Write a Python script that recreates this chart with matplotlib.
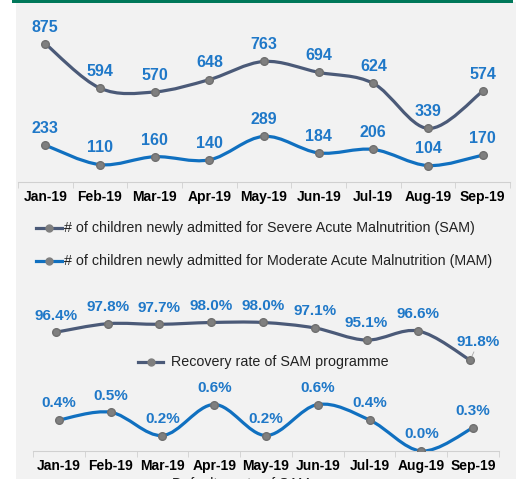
import numpy as np
import matplotlib
matplotlib.use("Agg")
import matplotlib.pyplot as plt
from matplotlib.path import Path
from matplotlib.patches import PathPatch, Rectangle

plt.rcParams['font.family'] = ['Liberation Sans', 'DejaVu Sans']

months = ['Jan-19', 'Feb-19', 'Mar-19', 'Apr-19', 'May-19', 'Jun-19', 'Jul-19', 'Aug-19', 'Sep-19']
sam = [875, 594, 570, 648, 763, 694, 624, 339, 574]
mam = [233, 110, 160, 140, 289, 184, 206, 104, 170]
recovery = [96.4, 97.8, 97.7, 98.0, 98.0, 97.1, 95.1, 96.6, 91.8]
defaulter = [0.4, 0.5, 0.2, 0.6, 0.2, 0.6, 0.4, 0.0, 0.3]

W, H = 521, 479
LBL = '#1F78C8'
SAMC = '#4B5A78'
MAMC = '#1070C0'
MK = '#7F7F7F'


def px(x0, y0, x1, y1):
    # pixel box (top-left origin) -> figure fraction rect
    return [x0 / W, 1 - y1 / H, (x1 - x0) / W, (y1 - y0) / H]


def smooth(ax, xs, ys, color):
    # bezier through points, excel-like smoothed line
    xs = np.asarray(xs, float)
    ys = np.asarray(ys, float)
    pts = np.column_stack([xs, ys])
    n = len(pts)
    verts = [pts[0]]
    codes = [Path.MOVETO]
    for i in range(n - 1):
        p0 = pts[max(i - 1, 0)]
        p1 = pts[i]
        p2 = pts[i + 1]
        p3 = pts[min(i + 2, n - 1)]
        c1 = p1 + (p2 - p0) / 6
        c2 = p2 - (p3 - p1) / 6
        verts += [c1, c2, p2]
        codes += [Path.CURVE4] * 3
    ax.add_patch(PathPatch(Path(verts, codes), fc='none', ec=color, lw=2.3,
                           capstyle='round', zorder=2))
    ax.plot(xs, ys, ls='none', marker='o', ms=5.5, mfc=MK, mec='#6f6f6f', zorder=3)


def labels(ax, xs, ys, fmt, dy=12, fs=11):
    for x, y in zip(xs, ys):
        ax.annotate(fmt.format(y), (x, y), xytext=(0, dy), textcoords='offset points',
                    ha='center', va='center', color=LBL, fontsize=fs, fontweight='bold')


def cat_axis(ax):
    ax.set_xlim(-0.5, len(months) - 0.5)
    ax.set_xticks(range(len(months)))
    ax.set_xticklabels(months, fontsize=10, fontweight='bold')
    ax.set_xticks(np.arange(-0.5, len(months)), minor=True)
    ax.tick_params(axis='x', which='major', length=0, pad=6)
    ax.tick_params(axis='x', which='minor', length=4, color='#d0d0d0', direction='out')
    ax.set_yticks([])
    for s in ['top', 'right', 'left']:
        ax.spines[s].set_visible(False)
    ax.spines['bottom'].set_color('#d0d0d0')
    ax.patch.set_alpha(0)


fig = plt.figure(figsize=(W / 100, H / 100), dpi=100, facecolor='white')
fig.patches.append(Rectangle((16 / W, 0), 500 / W, 1 - 2 / H, transform=fig.transFigure,
                             fc='#F2F2F2', ec='none', zorder=-5))
fig.patches.append(Rectangle((12 / W, 1 - 2.5 / H), 501 / W, 2.5 / H, transform=fig.transFigure,
                             fc='#00785A', ec='none', zorder=-4))

x = np.arange(len(months))

# top chart
ax1 = fig.add_axes(px(18, 24, 510, 182))
cat_axis(ax1)
ax1.set_ylim(0, 1000)
smooth(ax1, x, sam, SAMC)
smooth(ax1, x, mam, MAMC)
labels(ax1, x, sam, '{:d}', fs=11.5)
labels(ax1, x, mam, '{:d}', fs=11.5)

# legend of top chart
for yy, col, txt in [(228, SAMC, '# of children newly admitted for Severe Acute Malnutrition (SAM)'),
                     (261, MAMC, '# of children newly admitted for Moderate Acute Malnutrition (MAM)')]:
    fig.add_artist(plt.Line2D([36 / W, 62 / W], [1 - yy / H] * 2, color=col, lw=2.3))
    fig.add_artist(plt.Line2D([49 / W], [1 - yy / H], marker='o', ms=5, mfc=MK, mec=MK))
    fig.text(64 / W, 1 - yy / H, txt, fontsize=10.3, va='center', ha='left', color='#222222')

# recovery chart (axis hidden)
ax2 = fig.add_axes(px(30, 295, 496, 385))
ax2.set_xlim(-0.5, len(months) - 0.5)
ax2.set_ylim(87.7, 102.53)
ax2.axis('off')
smooth(ax2, x, recovery, SAMC)
labels(ax2, x[:-1], recovery[:-1], '{:.1f}%')
ax2.annotate('{:.1f}%'.format(recovery[-1]), (x[-1], recovery[-1]), xytext=(6, 13),
             textcoords='offset points', ha='center', va='center', color=LBL,
             fontsize=11, fontweight='bold',
             arrowprops=dict(arrowstyle='-', color='#a6a6a6', lw=0.6, shrinkA=7, shrinkB=3))
fig.add_artist(plt.Line2D([138 / W, 163 / W], [1 - 362 / H] * 2, color=SAMC, lw=2.3))
fig.add_artist(plt.Line2D([151 / W], [1 - 362 / H], marker='o', ms=5, mfc=MK, mec=MK))
fig.text(171 / W, 1 - 362 / H, 'Recovery rate of SAM programme', fontsize=10.3,
         va='center', ha='left', color='#222222')

# defaulter chart
ax3 = fig.add_axes(px(33, 389, 499, 451))
cat_axis(ax3)
ax3.set_ylim(0, 0.8)
smooth(ax3, x, defaulter, MAMC)
labels(ax3, x, defaulter, '{:.1f}%')
fig.text(172 / W, -5 / H, 'Defaulter rate of SAM', fontsize=10.3, va='center', ha='left',
         color='#222222')

fig.savefig('out.png', dpi=100, facecolor='white')
